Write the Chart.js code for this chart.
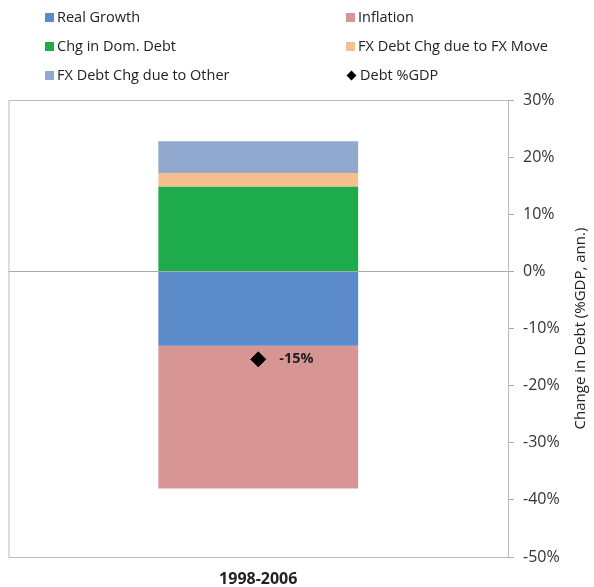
<!DOCTYPE html>
<html>
<head>
<meta charset="utf-8">
<script src="https://cdn.jsdelivr.net/npm/chart.js@4.4.0/dist/chart.umd.min.js"></script>
<style>
  body { margin: 0; background: #fff; font-family: "Open Sans", sans-serif; }
  #wrap { position: relative; width: 594px; height: 587px; }
  #legend { position: absolute; left: 0; top: 0; width: 594px; }
  .item { position: absolute; font-size: 14.5px; color: #222; line-height: 18px; white-space: nowrap; }
  .sw { display: inline-block; width: 9px; height: 9px; margin-right: 3px; vertical-align: 0px; }
  .dia { display: inline-block; width: 7px; height: 7px; background: #000; transform: rotate(45deg); margin: 0 5px 0 2px; vertical-align: 1px; }
</style>
</head>
<body>
<div id="wrap">
  <canvas id="myChart" width="594" height="587"></canvas>
  <div id="legend"></div>
</div>
<script>
const categories = ['1998-2006'];
const realGrowth = [-13.0];
const inflation = [-25.0];
const domDebt = [14.8];
const fxMove = [2.4];
const fxOther = [5.6];
const debtGdp = [-15.4];
const yTicks = [30, 20, 10, 0, -10, -20, -30, -40, -50];

const seriesNames = ['Real Growth', 'Inflation', 'Chg in Dom. Debt', 'FX Debt Chg due to FX Move', 'FX Debt Chg due to Other', 'Debt %GDP'];
const colors = ['#5a8bc8', '#d79593', '#1eab4b', '#f7bf8f', '#92a9cf', '#000000'];

// html legend, 2 columns x 3 rows
const legendPos = [[45, 8], [346, 8], [45, 37], [346, 37], [45, 66], [346, 66]];
let html = '';
seriesNames.map((name, i) => {
    const mark = i === 5 ? '<span class="dia"></span>' : '<span class="sw" style="background:' + colors[i] + '"></span>';
    html += '<div class="item" style="left:' + legendPos[i][0] + 'px;top:' + legendPos[i][1] + 'px">' + mark + name + '</div>';
});
document.getElementById('legend').innerHTML = html;

const plotExtras = {
    id: 'plotExtras',
    beforeDatasetsDraw(chart) {
        const { ctx, chartArea } = chart;
        ctx.save();
        ctx.strokeStyle = '#bbbbbb';
        ctx.lineWidth = 1;
        ctx.strokeRect(chartArea.left + 0.5, chartArea.top + 0.5, chartArea.right - chartArea.left, chartArea.bottom - chartArea.top);
        ctx.restore();
    },
    afterDraw(chart) {
        const { ctx, chartArea } = chart;
        ctx.save();
        // right axis title, reading bottom to top
        ctx.font = '15px "Open Sans"';
        ctx.fillStyle = '#222';
        ctx.textAlign = 'center';
        ctx.textBaseline = 'middle';
        ctx.translate(581, (chartArea.top + chartArea.bottom) / 2);
        ctx.rotate(-Math.PI / 2);
        ctx.fillText('Change in Debt (%GDP, ann.)', 0, 0);
        ctx.restore();

        // label next to the marker
        const meta = chart.getDatasetMeta(5);
        meta.data.forEach((pt, i) => {
            ctx.save();
            ctx.font = 'bold 14.5px "Open Sans"';
            ctx.fillStyle = '#222';
            ctx.textBaseline = 'middle';
            ctx.fillText(Math.round(debtGdp[i]) + '%', pt.x + 21, pt.y);
            ctx.restore();
        });
    }
};

const ctx = document.getElementById('myChart').getContext('2d');
new Chart(ctx, {
    type: 'bar',
    data: {
        labels: categories,
        datasets: [
            { label: seriesNames[0], data: realGrowth, backgroundColor: colors[0], order: 1 },
            { label: seriesNames[1], data: inflation, backgroundColor: colors[1], order: 1 },
            { label: seriesNames[2], data: domDebt, backgroundColor: colors[2], order: 1 },
            { label: seriesNames[3], data: fxMove, backgroundColor: colors[3], order: 1 },
            { label: seriesNames[4], data: fxOther, backgroundColor: colors[4], order: 1 },
            {
                type: 'line', label: seriesNames[5], data: debtGdp, stack: 'marker',
                showLine: false, pointStyle: 'rectRot', pointRadius: 7.5,
                pointBackgroundColor: '#000', pointBorderColor: '#000', order: 0
            }
        ]
    },
    options: {
        responsive: false,
        animation: false,
        layout: { padding: { left: 8, top: 100, right: 0, bottom: 0 } },
        datasets: { bar: { barPercentage: 0.4, categoryPercentage: 1 } },
        plugins: { legend: { display: false }, tooltip: { enabled: false } },
        scales: {
            x: {
                stacked: true,
                grid: { display: false },
                border: { display: false },
                ticks: { color: '#222', font: { family: 'Open Sans', size: 16, weight: 'bold' }, padding: 5 },
                afterFit: (scale) => { scale.height = 30; }
            },
            y: {
                stacked: true,
                position: 'right',
                min: yTicks[yTicks.length - 1],
                max: yTicks[0],
                afterBuildTicks: (scale) => { scale.ticks = yTicks.map(v => ({ value: v })); },
                grid: {
                    color: (c) => c.tick && c.tick.value === 0 ? '#aaaaaa' : 'rgba(0,0,0,0)',
                    tickColor: '#aaaaaa',
                    tickLength: 6
                },
                border: { display: true, color: '#aaaaaa' },
                ticks: {
                    color: '#333',
                    padding: 9,
                    font: { family: 'Open Sans', size: 16 },
                    callback: (v) => v + '%'
                },
                afterFit: (scale) => { scale.width = 86; }
            }
        }
    },
    plugins: [plotExtras]
});
</script>
</body>
</html>
